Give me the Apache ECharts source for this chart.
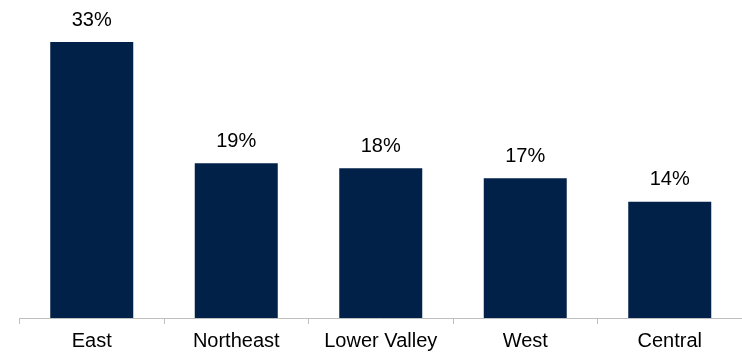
<!DOCTYPE html>
<html>
<head>
<meta charset="utf-8">
<script src="https://cdn.jsdelivr.net/npm/echarts@6/dist/echarts.min.js"></script>
<style>html,body{margin:0;padding:0;background:#fff}#c{width:742px;height:357px}</style>
</head>
<body>
<div id="c"></div>
<script>
const categories = ["East", "Northeast", "Lower Valley", "West", "Central"];
const values = [33.0, 18.5, 17.9, 16.7, 13.9];
const valueLabels = ["33%", "19%", "18%", "17%", "14%"];

const chart = echarts.init(document.getElementById('c'), null, {renderer: 'canvas'});
chart.setOption({
  animation: false,
  grid: {left: 19.5, top: 25.3, width: 727.5, height: 292.7, containLabel: false},
  xAxis: {
    type: 'category',
    data: categories,
    axisLine: {lineStyle: {color: '#bfbfbf', width: 1}},
    axisTick: {show: true, interval: 0, length: 6, lineStyle: {color: '#bfbfbf'}},
    axisLabel: {interval: 0, hideOverlap: false, color: '#000', fontFamily: 'Liberation Sans, Arial, sans-serif', fontSize: 20, margin: 13}
  },
  yAxis: {
    type: 'value', min: 0, max: 35,
    show: false,
    splitLine: {show: false}
  },
  series: [{
    type: 'bar',
    data: values,
    barWidth: 83,
    itemStyle: {color: '#022148'},
    label: {
      show: true,
      position: 'top',
      distance: 12,
      color: '#000',
      fontFamily: 'Liberation Sans, Arial, sans-serif',
      fontSize: 20,
      formatter: p => valueLabels[p.dataIndex]
    }
  }]
});
</script>
</body>
</html>
